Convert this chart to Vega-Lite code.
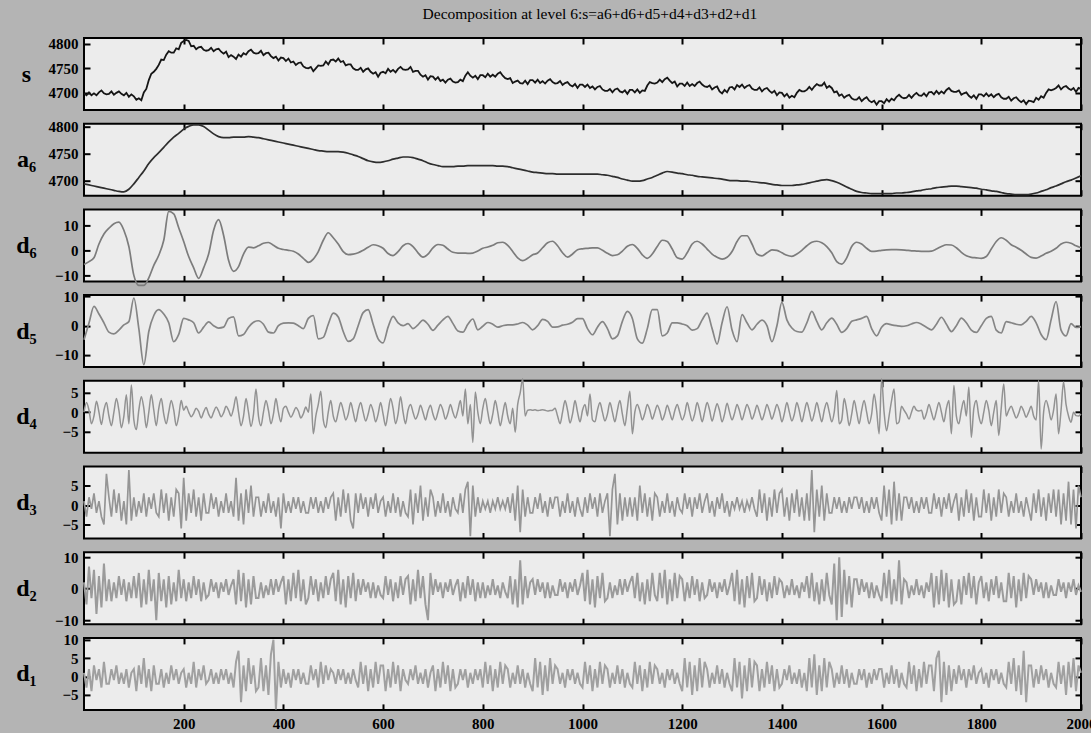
{
"$schema":"https://vega.github.io/schema/vega-lite/v6.json",
"background":"#b4b4b4",
"padding":{"left":14,"top":6,"right":0,"bottom":0},
"title":{"text":"Decomposition at level 6:s=a6+d6+d5+d4+d3+d2+d1","font":"Liberation Serif","fontSize":15.5,"fontWeight":"normal","color":"#000000","anchor":"middle","offset":13,"dx":34},
"spacing":13.7,
"bounds":"flush",
"config":{
"numberFormat":"d",
"view":{"fill":"#ececec","stroke":"#000000","strokeWidth":2},
"axis":{"grid":false,"domain":false,"format":"d","tickColor":"#000000","tickWidth":2,"tickSize":-6,"labelFont":"Liberation Serif","labelFontWeight":"bold","labelFontSize":15,"labelColor":"#000000","titleFont":"Liberation Serif","titleFontSize":24,"titleFontWeight":"bold","titleColor":"#000000"},
"axisLeft":{"titleAngle":0,"titleX":-58,"titleY":36,"titleAlign":"center","titleBaseline":"middle","labelPadding":12},
"axisRight":{"labels":false},
"axisTop":{"labels":false},
"axisBottom":{"labelPadding":13,"labelFlush":false},
"line":{"clip":true}
},
"datasets":{
"lf":[
{"x":0,"a6":4694,"d6":-5.7,"d5":-4.8},{"x":10,"a6":4692,"d6":-4.5,"d5":0.9},{"x":20,"a6":4690,"d6":-3,"d5":6.6},{"x":30,"a6":4688,"d6":2.5,"d5":4},{"x":40,"a6":4686,"d6":6.5,"d5":1},{"x":50,"a6":4684,"d6":8.8,"d5":-2.2},{"x":60,"a6":4682,"d6":10.6,"d5":-2.8},{"x":70,"a6":4680,"d6":11.2,"d5":-1.5},{"x":80,"a6":4679,"d6":8,"d5":0.3},{"x":90,"a6":4684,"d6":1.5,"d5":1.4},
{"x":100,"a6":4694,"d6":-10,"d5":9.5},{"x":110,"a6":4706,"d6":-14,"d5":-1},{"x":120,"a6":4718,"d6":-14,"d5":-13.4},{"x":130,"a6":4732,"d6":-11,"d5":-2},{"x":140,"a6":4743,"d6":-6,"d5":3.5},{"x":150,"a6":4752,"d6":-2,"d5":5.5},{"x":160,"a6":4762,"d6":4,"d5":4},{"x":170,"a6":4772,"d6":15.5,"d5":1},{"x":180,"a6":4781,"d6":14.5,"d5":-5.5},{"x":190,"a6":4788,"d6":9,"d5":-3},
{"x":200,"a6":4796,"d6":3.5,"d5":2.5},{"x":210,"a6":4801,"d6":-2.5,"d5":2},{"x":220,"a6":4804,"d6":-7,"d5":1},{"x":230,"a6":4804,"d6":-11.2,"d5":-2.5},{"x":240,"a6":4801,"d6":-7,"d5":-0.5},{"x":250,"a6":4794,"d6":-1.5,"d5":1.3},{"x":260,"a6":4787,"d6":8,"d5":0},{"x":270,"a6":4782,"d6":12.2,"d5":-0.8},{"x":280,"a6":4780,"d6":6,"d5":-0.5},{"x":290,"a6":4780,"d6":-4,"d5":2.5},
{"x":300,"a6":4781,"d6":-8.4,"d5":3},{"x":310,"a6":4781,"d6":-6.5,"d5":-3.5},{"x":320,"a6":4781,"d6":-1.5,"d5":-3},{"x":330,"a6":4782,"d6":1.3,"d5":-0.5},{"x":340,"a6":4781,"d6":1,"d5":1.2},{"x":350,"a6":4780,"d6":1.8,"d5":1.7},{"x":360,"a6":4778,"d6":2.8,"d5":0.5},{"x":370,"a6":4776,"d6":3.1,"d5":-2.2},{"x":380,"a6":4774,"d6":2,"d5":-2.5},{"x":390,"a6":4772,"d6":0.8,"d5":0},
{"x":400,"a6":4770,"d6":0.3,"d5":0.9},{"x":410,"a6":4768,"d6":0,"d5":1},{"x":420,"a6":4766,"d6":-0.4,"d5":0.9},{"x":430,"a6":4764,"d6":-1.5,"d5":0},{"x":440,"a6":4762,"d6":-3.2,"d5":-1},{"x":450,"a6":4760,"d6":-4.8,"d5":2.5},{"x":460,"a6":4758,"d6":-3.5,"d5":3.5},{"x":470,"a6":4756,"d6":-0.5,"d5":-4.5},{"x":480,"a6":4755,"d6":4,"d5":-4},{"x":490,"a6":4754,"d6":7,"d5":0.5},
{"x":500,"a6":4754,"d6":5,"d5":4.3},{"x":510,"a6":4754,"d6":2.5,"d5":3},{"x":520,"a6":4753,"d6":-0.5,"d5":-2},{"x":530,"a6":4751,"d6":-1.7,"d5":-5.4},{"x":540,"a6":4748,"d6":-1.5,"d5":-4.5},{"x":550,"a6":4745,"d6":-1,"d5":0},{"x":560,"a6":4741,"d6":0,"d5":4.5},{"x":570,"a6":4737,"d6":1.2,"d5":5.5},{"x":580,"a6":4735,"d6":2.2,"d5":0.5},{"x":590,"a6":4734,"d6":1.8,"d5":-4.5},
{"x":600,"a6":4735,"d6":0.8,"d5":-5.9},{"x":610,"a6":4737,"d6":-1.3,"d5":-0.5},{"x":620,"a6":4740,"d6":-2.1,"d5":3.2},{"x":630,"a6":4742,"d6":-0.5,"d5":1},{"x":640,"a6":4744,"d6":1.8,"d5":0},{"x":650,"a6":4744,"d6":2.7,"d5":0.7},{"x":660,"a6":4743,"d6":1.5,"d5":-1},{"x":670,"a6":4740,"d6":-1,"d5":0.3},{"x":680,"a6":4737,"d6":-2.7,"d5":1.9},{"x":690,"a6":4733,"d6":-1.5,"d5":0.5},
{"x":700,"a6":4730,"d6":1,"d5":-1.6},{"x":710,"a6":4728,"d6":2.3,"d5":0.2},{"x":720,"a6":4726,"d6":2,"d5":2},{"x":730,"a6":4726,"d6":0.5,"d5":3.2},{"x":740,"a6":4726,"d6":-0.8,"d5":0.8},{"x":750,"a6":4727,"d6":-1.1,"d5":-1.8},{"x":760,"a6":4727,"d6":-1.1,"d5":-2.2},{"x":770,"a6":4728,"d6":-1.2,"d5":0.5},{"x":780,"a6":4728,"d6":-1.1,"d5":2.3},{"x":790,"a6":4728,"d6":-0.3,"d5":-1.4},
{"x":800,"a6":4728,"d6":0.8,"d5":-0.2},{"x":810,"a6":4728,"d6":1.3,"d5":1.1},{"x":820,"a6":4728,"d6":2,"d5":0.5},{"x":830,"a6":4727,"d6":3,"d5":-0.5},{"x":840,"a6":4727,"d6":3.2,"d5":0},{"x":850,"a6":4726,"d6":2,"d5":0.3},{"x":860,"a6":4724,"d6":-0.5,"d5":0.3},{"x":870,"a6":4722,"d6":-3,"d5":0.6},{"x":880,"a6":4720,"d6":-4.1,"d5":1.1},{"x":890,"a6":4718,"d6":-3.2,"d5":0.2},
{"x":900,"a6":4716,"d6":-1.8,"d5":-1.4},{"x":910,"a6":4715,"d6":-1.1,"d5":0},{"x":920,"a6":4714,"d6":1,"d5":2.2},{"x":930,"a6":4713,"d6":3,"d5":1.5},{"x":940,"a6":4713,"d6":3.6,"d5":-0.5},{"x":950,"a6":4712,"d6":1.8,"d5":-0.4},{"x":960,"a6":4712,"d6":-1,"d5":0.2},{"x":970,"a6":4712,"d6":-2.7,"d5":0.5},{"x":980,"a6":4712,"d6":-1.5,"d5":1.2},{"x":990,"a6":4712,"d6":0.2,"d5":2.4},
{"x":1000,"a6":4712,"d6":0.6,"d5":2.4},{"x":1010,"a6":4712,"d6":0.8,"d5":-1},{"x":1020,"a6":4712,"d6":1,"d5":-3.1},{"x":1030,"a6":4712,"d6":1,"d5":-0.5},{"x":1040,"a6":4711,"d6":0,"d5":1.4},{"x":1050,"a6":4710,"d6":-1.2,"d5":-1},{"x":1060,"a6":4708,"d6":-2.1,"d5":-4.5},{"x":1070,"a6":4706,"d6":-1.8,"d5":-3.5},{"x":1080,"a6":4703,"d6":-0.3,"d5":1.5},{"x":1090,"a6":4701,"d6":1.6,"d5":4.9},
{"x":1100,"a6":4699,"d6":2.3,"d5":2.5},{"x":1110,"a6":4699,"d6":0.8,"d5":-4.5},{"x":1120,"a6":4700,"d6":-1.8,"d5":-6},{"x":1130,"a6":4703,"d6":-3.2,"d5":-1},{"x":1140,"a6":4706,"d6":-1.5,"d5":5.5},{"x":1150,"a6":4710,"d6":1.5,"d5":5.5},{"x":1160,"a6":4714,"d6":4,"d5":-3.5},{"x":1170,"a6":4717,"d6":3.5,"d5":-2.5},{"x":1180,"a6":4716,"d6":0.5,"d5":1},{"x":1190,"a6":4714,"d6":-3,"d5":1},
{"x":1200,"a6":4713,"d6":-3.5,"d5":0.6},{"x":1210,"a6":4711,"d6":-1,"d5":0},{"x":1220,"a6":4710,"d6":2.5,"d5":-1.5},{"x":1230,"a6":4708,"d6":3.6,"d5":-1},{"x":1240,"a6":4707,"d6":2.5,"d5":2},{"x":1250,"a6":4706,"d6":0.5,"d5":4.3},{"x":1260,"a6":4705,"d6":-1.5,"d5":-1},{"x":1270,"a6":4704,"d6":-2.8,"d5":-6.3},{"x":1280,"a6":4703,"d6":-3.5,"d5":1},{"x":1290,"a6":4701,"d6":-2.8,"d5":6.5},
{"x":1300,"a6":4700,"d6":-0.5,"d5":-1.5},{"x":1310,"a6":4700,"d6":3.5,"d5":-5.5},{"x":1320,"a6":4699,"d6":5.8,"d5":3.8},{"x":1330,"a6":4699,"d6":5.8,"d5":1},{"x":1340,"a6":4698,"d6":2.5,"d5":-1.4},{"x":1350,"a6":4697,"d6":-1.5,"d5":0.5},{"x":1360,"a6":4696,"d6":-2.2,"d5":1.9},{"x":1370,"a6":4695,"d6":-1,"d5":0},{"x":1380,"a6":4693,"d6":0.2,"d5":-5.5},{"x":1390,"a6":4692,"d6":0,"d5":0},
{"x":1400,"a6":4691,"d6":-1,"d5":8},{"x":1410,"a6":4691,"d6":-2,"d5":2},{"x":1420,"a6":4691,"d6":-2.4,"d5":-0.8},{"x":1430,"a6":4692,"d6":-1.5,"d5":-2},{"x":1440,"a6":4693,"d6":0,"d5":-2.2},{"x":1450,"a6":4695,"d6":1.8,"d5":1},{"x":1460,"a6":4697,"d6":3.2,"d5":4.9},{"x":1470,"a6":4699,"d6":3.6,"d5":1.5},{"x":1480,"a6":4701,"d6":3,"d5":-1.4},{"x":1490,"a6":4702,"d6":1.5,"d5":1},
{"x":1500,"a6":4700,"d6":-1,"d5":2.6},{"x":1510,"a6":4697,"d6":-4.5,"d5":0.5},{"x":1520,"a6":4693,"d6":-5.5,"d5":-2.3},{"x":1530,"a6":4688,"d6":-3,"d5":-1},{"x":1540,"a6":4684,"d6":1.5,"d5":1.5},{"x":1550,"a6":4680,"d6":3.2,"d5":2},{"x":1560,"a6":4678,"d6":2.5,"d5":2.5},{"x":1570,"a6":4677,"d6":0.8,"d5":3.2},{"x":1580,"a6":4676,"d6":-0.4,"d5":-1},{"x":1590,"a6":4676,"d6":-0.3,"d5":-3.5},
{"x":1600,"a6":4676,"d6":0,"d5":-0.5},{"x":1610,"a6":4676,"d6":0.2,"d5":0.7},{"x":1620,"a6":4676,"d6":0.3,"d5":0.3},{"x":1630,"a6":4677,"d6":0.3,"d5":0},{"x":1640,"a6":4677,"d6":0.2,"d5":-0.2},{"x":1650,"a6":4678,"d6":0,"d5":0},{"x":1660,"a6":4679,"d6":-0.2,"d5":0.6},{"x":1670,"a6":4681,"d6":-0.3,"d5":1.1},{"x":1680,"a6":4682,"d6":-0.4,"d5":0.5},{"x":1690,"a6":4684,"d6":-0.4,"d5":-0.5},
{"x":1700,"a6":4685,"d6":-0.3,"d5":-1.4},{"x":1710,"a6":4687,"d6":0.5,"d5":0.5},{"x":1720,"a6":4688,"d6":1.5,"d5":2.9},{"x":1730,"a6":4689,"d6":2.2,"d5":0.5},{"x":1740,"a6":4690,"d6":2.1,"d5":-2},{"x":1750,"a6":4690,"d6":1,"d5":0},{"x":1760,"a6":4689,"d6":-0.8,"d5":2.6},{"x":1770,"a6":4688,"d6":-2.2,"d5":1},{"x":1780,"a6":4687,"d6":-2.8,"d5":-1.5},{"x":1790,"a6":4686,"d6":-3,"d5":-2.3},
{"x":1800,"a6":4684,"d6":-3.2,"d5":0},{"x":1810,"a6":4683,"d6":-2.5,"d5":2.5},{"x":1820,"a6":4681,"d6":0.5,"d5":3.2},{"x":1830,"a6":4680,"d6":3.5,"d5":-1.5},{"x":1840,"a6":4678,"d6":5,"d5":-2.5},{"x":1850,"a6":4676,"d6":4,"d5":1.4},{"x":1860,"a6":4675,"d6":2.2,"d5":1},{"x":1870,"a6":4674,"d6":1.2,"d5":0.5},{"x":1880,"a6":4674,"d6":0,"d5":0.3},{"x":1890,"a6":4674,"d6":-1.5,"d5":1.5},
{"x":1900,"a6":4675,"d6":-2.8,"d5":3.2},{"x":1910,"a6":4677,"d6":-3.1,"d5":1},{"x":1920,"a6":4680,"d6":-2.3,"d5":-3},{"x":1930,"a6":4683,"d6":-1.2,"d5":-4.8},{"x":1940,"a6":4687,"d6":-0.4,"d5":2},{"x":1950,"a6":4690,"d6":0.8,"d5":8.3},{"x":1960,"a6":4694,"d6":2.5,"d5":-1.5},{"x":1970,"a6":4698,"d6":3.2,"d5":-3.5},{"x":1980,"a6":4701,"d6":2.8,"d5":0.7},{"x":1990,"a6":4705,"d6":1.8,"d5":-0.6},
{"x":2000,"a6":4709,"d6":1,"d5":-0.3}
],
"hf":[
{"x":0,"s":4699,"d4":0,"d3":1,"d2":2,"d1":1},{"x":5,"s":4695,"d4":2.5,"d3":-3,"d2":-5,"d1":-3},{"x":10,"s":4701,"d4":0.5,"d3":2,"d2":7,"d1":2},{"x":15,"s":4695,"d4":-3,"d3":-1,"d2":-3,"d1":-4},{"x":20,"s":4699,"d4":-1,"d3":3,"d2":6,"d1":3},{"x":25,"s":4695,"d4":2.8,"d3":-2,"d2":-8,"d1":-1},{"x":30,"s":4701,"d4":0,"d3":1,"d2":4,"d1":2},{"x":35,"s":4705,"d4":-3.2,"d3":-3,"d2":-6,"d1":-3},{"x":40,"s":4699,"d4":0.5,"d3":-5,"d2":8,"d1":4},{"x":45,"s":4697,"d4":2.5,"d3":8,"d2":-4,"d1":-2},
{"x":50,"s":4698,"d4":-1,"d3":2,"d2":3,"d1":-2},{"x":55,"s":4703,"d4":-3.5,"d3":-3,"d2":-4,"d1":2},{"x":60,"s":4696,"d4":0,"d3":4,"d2":2,"d1":-1},{"x":65,"s":4700,"d4":3.5,"d3":-2,"d2":-3,"d1":3},{"x":70,"s":4703,"d4":0.5,"d3":3,"d2":4,"d1":-2},{"x":75,"s":4698,"d4":-4,"d3":-4,"d2":-2,"d1":1},{"x":80,"s":4695,"d4":-1,"d3":1,"d2":3,"d1":-2},{"x":85,"s":4700,"d4":4.5,"d3":-5,"d2":-4,"d1":2},{"x":90,"s":4692,"d4":-3,"d3":9,"d2":2,"d1":-3},{"x":95,"s":4697,"d4":7,"d3":-4,"d2":-3,"d1":1},
{"x":100,"s":4693,"d4":-2,"d3":2,"d2":4,"d1":2},{"x":105,"s":4686,"d4":-4.5,"d3":-3,"d2":-3,"d1":-4},{"x":110,"s":4689,"d4":0.5,"d3":1,"d2":5,"d1":3},{"x":115,"s":4685,"d4":4,"d3":-2,"d2":-6,"d1":-2},{"x":120,"s":4701,"d4":1,"d3":3,"d2":3,"d1":5},{"x":125,"s":4708,"d4":-4,"d3":-3,"d2":-5,"d1":-3},{"x":130,"s":4726,"d4":0,"d3":2,"d2":6,"d1":2},{"x":135,"s":4739,"d4":4.5,"d3":-1,"d2":-4,"d1":-4},{"x":140,"s":4743,"d4":0.5,"d3":3,"d2":3,"d1":3},{"x":145,"s":4749,"d4":-3.5,"d3":-2,"d2":-10,"d1":-2},
{"x":150,"s":4757,"d4":1,"d3":-3,"d2":5,"d1":-2},{"x":155,"s":4768,"d4":3.5,"d3":4,"d2":-4,"d1":2},{"x":160,"s":4767,"d4":-0.5,"d3":-2,"d2":3,"d1":-3},{"x":165,"s":4778,"d4":-3,"d3":3,"d2":-6,"d1":1},{"x":170,"s":4785,"d4":0,"d3":-4,"d2":4,"d1":-2},{"x":175,"s":4782,"d4":3,"d3":2,"d2":-5,"d1":3},{"x":180,"s":4782,"d4":0.5,"d3":-3,"d2":2,"d1":-1},{"x":185,"s":4791,"d4":-3.5,"d3":4,"d2":-4,"d1":2},{"x":190,"s":4789,"d4":-1,"d3":3,"d2":6,"d1":-2},{"x":195,"s":4802,"d4":3,"d3":-6,"d2":-3,"d1":1},
{"x":200,"s":4806,"d4":0.5,"d3":7,"d2":3,"d1":2},{"x":205,"s":4808,"d4":1.5,"d3":-4,"d2":-4,"d1":-3},{"x":210,"s":4806,"d4":0,"d3":3,"d2":2,"d1":1},{"x":215,"s":4795,"d4":-1.2,"d3":-2,"d2":-3,"d1":-2},{"x":220,"s":4796,"d4":-0.3,"d3":4,"d2":4,"d1":4},{"x":225,"s":4789,"d4":1,"d3":-3,"d2":-2,"d1":-3},{"x":230,"s":4793,"d4":0.2,"d3":2,"d2":3,"d1":2},{"x":235,"s":4794,"d4":-1.5,"d3":-4,"d2":-4,"d1":-1},{"x":240,"s":4788,"d4":0,"d3":3,"d2":2,"d1":3},{"x":245,"s":4786,"d4":1.2,"d3":-2,"d2":-3,"d1":-2},
{"x":250,"s":4787,"d4":-0.5,"d3":-2,"d2":-2,"d1":-1},{"x":255,"s":4792,"d4":-1.5,"d3":3,"d2":3,"d1":2},{"x":260,"s":4785,"d4":0,"d3":-1,"d2":-1,"d1":-2},{"x":265,"s":4789,"d4":1.3,"d3":2,"d2":2,"d1":1},{"x":270,"s":4790,"d4":0.3,"d3":-3,"d2":-3,"d1":-2},{"x":275,"s":4784,"d4":-1.2,"d3":1,"d2":2,"d1":2},{"x":280,"s":4780,"d4":-0.2,"d3":-2,"d2":-1,"d1":-1},{"x":285,"s":4784,"d4":1.5,"d3":3,"d2":3,"d1":2},{"x":290,"s":4773,"d4":0.5,"d3":-2,"d2":-2,"d1":-2},{"x":295,"s":4777,"d4":-1,"d3":1,"d2":1,"d1":1},
{"x":300,"s":4774,"d4":1,"d3":-3,"d2":3,"d1":-3},{"x":305,"s":4769,"d4":4,"d3":7,"d2":-5,"d1":4},{"x":310,"s":4778,"d4":0,"d3":-4,"d2":6,"d1":7},{"x":315,"s":4774,"d4":-3.5,"d3":3,"d2":-4,"d1":-7},{"x":320,"s":4781,"d4":-1,"d3":-5,"d2":5,"d1":3},{"x":325,"s":4778,"d4":3.5,"d3":4,"d2":-6,"d1":-4},{"x":330,"s":4785,"d4":0,"d3":-2,"d2":3,"d1":5},{"x":335,"s":4788,"d4":-3.7,"d3":5,"d2":-5,"d1":-2},{"x":340,"s":4782,"d4":-0.5,"d3":-3,"d2":4,"d1":3},{"x":345,"s":4780,"d4":6,"d3":2,"d2":-3,"d1":-4},
{"x":350,"s":4781,"d4":-1,"d3":2,"d2":-3,"d1":-3},{"x":355,"s":4786,"d4":-3.5,"d3":-3,"d2":2,"d1":5},{"x":360,"s":4777,"d4":0,"d3":1,"d2":-3,"d1":-4},{"x":365,"s":4781,"d4":3,"d3":-2,"d2":1,"d1":3},{"x":370,"s":4782,"d4":0.5,"d3":3,"d2":-2,"d1":-5},{"x":375,"s":4775,"d4":-3,"d3":-2,"d2":3,"d1":6},{"x":380,"s":4771,"d4":-0.5,"d3":1,"d2":-2,"d1":10},{"x":385,"s":4774,"d4":3.5,"d3":-3,"d2":3,"d1":-9},{"x":390,"s":4766,"d4":0,"d3":2,"d2":-1,"d1":4},{"x":395,"s":4772,"d4":-2.5,"d3":-6,"d2":2,"d1":-3},
{"x":400,"s":4771,"d4":1,"d3":3,"d2":4,"d1":2},{"x":405,"s":4765,"d4":1.5,"d3":-2,"d2":-5,"d1":-2},{"x":410,"s":4770,"d4":0,"d3":1,"d2":3,"d1":1},{"x":415,"s":4762,"d4":-1.3,"d3":-2,"d2":-4,"d1":-3},{"x":420,"s":4764,"d4":-0.2,"d3":2,"d2":5,"d1":2},{"x":425,"s":4757,"d4":1.2,"d3":-1,"d2":-3,"d1":-1},{"x":430,"s":4761,"d4":0.3,"d3":2,"d2":6,"d1":2},{"x":435,"s":4762,"d4":-1.5,"d3":-2,"d2":-4,"d1":-2},{"x":440,"s":4754,"d4":-0.4,"d3":1,"d2":3,"d1":1},{"x":445,"s":4751,"d4":1.3,"d3":-2,"d2":-5,"d1":-2},
{"x":450,"s":4750,"d4":0,"d3":-2,"d2":-3,"d1":-2},{"x":455,"s":4753,"d4":4.7,"d3":2,"d2":4,"d1":3},{"x":460,"s":4744,"d4":-5.6,"d3":-1,"d2":-2,"d1":-1},{"x":465,"s":4750,"d4":-1,"d3":2,"d2":3,"d1":2},{"x":470,"s":4756,"d4":2,"d3":-2,"d2":-4,"d1":-3},{"x":475,"s":4755,"d4":5.4,"d3":1,"d2":2,"d1":4},{"x":480,"s":4756,"d4":-2,"d3":-2,"d2":-3,"d1":-2},{"x":485,"s":4764,"d4":-4,"d3":2,"d2":4,"d1":3},{"x":490,"s":4758,"d4":0,"d3":-1,"d2":-2,"d1":-1},{"x":495,"s":4767,"d4":3,"d3":2,"d2":3,"d1":2},
{"x":500,"s":4768,"d4":-1,"d3":3,"d2":5,"d1":1},{"x":505,"s":4764,"d4":-2.5,"d3":-4,"d2":-4,"d1":-2},{"x":510,"s":4770,"d4":0,"d3":2,"d2":6,"d1":2},{"x":515,"s":4763,"d4":2.5,"d3":-3,"d2":-5,"d1":-1},{"x":520,"s":4765,"d4":0.5,"d3":4,"d2":3,"d1":2},{"x":525,"s":4756,"d4":-2,"d3":-2,"d2":-6,"d1":-2},{"x":530,"s":4758,"d4":-0.5,"d3":3,"d2":4,"d1":1},{"x":535,"s":4758,"d4":2.5,"d3":-4,"d2":-3,"d1":-2},{"x":540,"s":4750,"d4":0,"d3":-6,"d2":5,"d1":2},{"x":545,"s":4747,"d4":-2.5,"d3":3,"d2":-4,"d1":-1},
{"x":550,"s":4747,"d4":0.5,"d3":-2,"d2":3,"d1":-3},{"x":555,"s":4751,"d4":2.5,"d3":3,"d2":-2,"d1":4},{"x":560,"s":4743,"d4":0,"d3":-1,"d2":3,"d1":-2},{"x":565,"s":4748,"d4":-2.3,"d3":2,"d2":-1,"d1":3},{"x":570,"s":4750,"d4":-0.5,"d3":-3,"d2":2,"d1":-4},{"x":575,"s":4743,"d4":2,"d3":2,"d2":-3,"d1":2},{"x":580,"s":4739,"d4":0.3,"d3":-1,"d2":2,"d1":-3},{"x":585,"s":4742,"d4":-2.5,"d3":3,"d2":-3,"d1":4},{"x":590,"s":4733,"d4":-0.5,"d3":-2,"d2":1,"d1":-2},{"x":595,"s":4741,"d4":2.5,"d3":1,"d2":-2,"d1":3},
{"x":600,"s":4743,"d4":-0.5,"d3":2,"d2":-3,"d1":3},{"x":605,"s":4740,"d4":-3.5,"d3":-3,"d2":4,"d1":-4},{"x":610,"s":4749,"d4":0,"d3":1,"d2":-2,"d1":2},{"x":615,"s":4743,"d4":3.5,"d3":-2,"d2":3,"d1":-3},{"x":620,"s":4747,"d4":1,"d3":3,"d2":-4,"d1":4},{"x":625,"s":4742,"d4":-3,"d3":-2,"d2":2,"d1":-2},{"x":630,"s":4749,"d4":-0.5,"d3":2,"d2":-3,"d1":3},{"x":635,"s":4753,"d4":4,"d3":-3,"d2":4,"d1":-4},{"x":640,"s":4748,"d4":0,"d3":1,"d2":-2,"d1":2},{"x":645,"s":4747,"d4":-3,"d3":-2,"d2":3,"d1":-1},
{"x":650,"s":4748,"d4":0.5,"d3":-3,"d2":4,"d1":-2},{"x":655,"s":4753,"d4":2,"d3":4,"d2":-5,"d1":2},{"x":660,"s":4743,"d4":0,"d3":-5,"d2":3,"d1":-1},{"x":665,"s":4745,"d4":-1.8,"d3":3,"d2":-4,"d1":3},{"x":670,"s":4745,"d4":-0.5,"d3":-2,"d2":6,"d1":-2},{"x":675,"s":4737,"d4":1.8,"d3":5,"d2":-3,"d1":1},{"x":680,"s":4733,"d4":0,"d3":-4,"d2":4,"d1":-2},{"x":685,"s":4736,"d4":-2,"d3":2,"d2":-5,"d1":2},{"x":690,"s":4727,"d4":0.3,"d3":-3,"d2":-10,"d1":-3},{"x":695,"s":4734,"d4":1.8,"d3":4,"d2":5,"d1":1},
{"x":700,"s":4733,"d4":-0.5,"d3":2,"d2":-2,"d1":3},{"x":705,"s":4727,"d4":-2,"d3":-3,"d2":3,"d1":-4},{"x":710,"s":4732,"d4":0,"d3":1,"d2":-1,"d1":2},{"x":715,"s":4724,"d4":2,"d3":-2,"d2":2,"d1":-3},{"x":720,"s":4727,"d4":0.5,"d3":3,"d2":-3,"d1":4},{"x":725,"s":4721,"d4":-1.8,"d3":-2,"d2":2,"d1":-2},{"x":730,"s":4727,"d4":-0.3,"d3":1,"d2":-1,"d1":3},{"x":735,"s":4729,"d4":2,"d3":-3,"d2":3,"d1":-4},{"x":740,"s":4723,"d4":0,"d3":2,"d2":-2,"d1":2},{"x":745,"s":4721,"d4":-1.5,"d3":-1,"d2":1,"d1":-3},
{"x":750,"s":4722,"d4":0.5,"d3":-2,"d2":3,"d1":-2},{"x":755,"s":4727,"d4":3,"d3":3,"d2":-4,"d1":2},{"x":760,"s":4724,"d4":-1,"d3":-2,"d2":2,"d1":-1},{"x":765,"s":4735,"d4":6,"d3":4,"d2":-3,"d1":2},{"x":770,"s":4742,"d4":-3,"d3":6,"d2":4,"d1":-3},{"x":775,"s":4735,"d4":2,"d3":-8,"d2":-2,"d1":1},{"x":780,"s":4731,"d4":-7.8,"d3":5,"d2":3,"d1":-2},{"x":785,"s":4735,"d4":5.2,"d3":-3,"d2":-4,"d1":2},{"x":790,"s":4728,"d4":0,"d3":2,"d2":2,"d1":-1},{"x":795,"s":4736,"d4":-3,"d3":-2,"d2":-3,"d1":2},
{"x":800,"s":4736,"d4":1,"d3":1,"d2":2,"d1":-3},{"x":805,"s":4732,"d4":3.5,"d3":-1,"d2":-3,"d1":4},{"x":810,"s":4739,"d4":0,"d3":1,"d2":1,"d1":-2},{"x":815,"s":4733,"d4":-3,"d3":-2,"d2":-2,"d1":3},{"x":820,"s":4737,"d4":-0.5,"d3":1,"d2":3,"d1":-4},{"x":825,"s":4733,"d4":3,"d3":-1,"d2":-2,"d1":2},{"x":830,"s":4739,"d4":0,"d3":2,"d2":1,"d1":-3},{"x":835,"s":4742,"d4":-3.5,"d3":-1,"d2":-3,"d1":4},{"x":840,"s":4735,"d4":-0.5,"d3":1,"d2":2,"d1":-2},{"x":845,"s":4730,"d4":2.5,"d3":-1,"d2":-1,"d1":3},
{"x":850,"s":4728,"d4":-1,"d3":2,"d2":-3,"d1":2},{"x":855,"s":4730,"d4":-3,"d3":-2,"d2":4,"d1":-3},{"x":860,"s":4720,"d4":1,"d3":3,"d2":-5,"d1":1},{"x":865,"s":4723,"d4":-5.2,"d3":-4,"d2":3,"d1":-2},{"x":870,"s":4725,"d4":2,"d3":5,"d2":-6,"d1":3},{"x":875,"s":4720,"d4":5,"d3":-7,"d2":9,"d1":-2},{"x":880,"s":4719,"d4":8.6,"d3":4,"d2":-5,"d1":2},{"x":885,"s":4725,"d4":-1,"d3":-3,"d2":4,"d1":-3},{"x":890,"s":4718,"d4":0.5,"d3":2,"d2":-3,"d1":1},{"x":895,"s":4726,"d4":0.6,"d3":-2,"d2":2,"d1":-2},
{"x":900,"s":4726,"d4":0.5,"d3":-2,"d2":3,"d1":-4},{"x":905,"s":4721,"d4":0.6,"d3":2,"d2":-2,"d1":5},{"x":910,"s":4727,"d4":0.4,"d3":-1,"d2":3,"d1":-3},{"x":915,"s":4720,"d4":0.5,"d3":3,"d2":-1,"d1":4},{"x":920,"s":4724,"d4":0.6,"d3":-2,"d2":2,"d1":-5},{"x":925,"s":4719,"d4":0.5,"d3":1,"d2":-3,"d1":3},{"x":930,"s":4725,"d4":0.3,"d3":-3,"d2":2,"d1":-4},{"x":935,"s":4728,"d4":0.4,"d3":2,"d2":-3,"d1":5},{"x":940,"s":4722,"d4":0.5,"d3":-1,"d2":1,"d1":-2},{"x":945,"s":4719,"d4":1,"d3":2,"d2":-2,"d1":3},
{"x":950,"s":4720,"d4":-1,"d3":2,"d2":-2,"d1":2},{"x":955,"s":4724,"d4":-3,"d3":-3,"d2":3,"d1":-2},{"x":960,"s":4716,"d4":0,"d3":1,"d2":-1,"d1":1},{"x":965,"s":4720,"d4":3,"d3":-2,"d2":2,"d1":-3},{"x":970,"s":4722,"d4":0.5,"d3":3,"d2":-3,"d1":2},{"x":975,"s":4716,"d4":-2.8,"d3":-2,"d2":2,"d1":-1},{"x":980,"s":4713,"d4":-0.5,"d3":1,"d2":-1,"d1":2},{"x":985,"s":4718,"d4":3,"d3":-3,"d2":3,"d1":-2},{"x":990,"s":4710,"d4":0,"d3":2,"d2":-2,"d1":1},{"x":995,"s":4717,"d4":-2.5,"d3":-1,"d2":1,"d1":-2},
{"x":1000,"s":4717,"d4":0.5,"d3":-3,"d2":5,"d1":-3},{"x":1005,"s":4712,"d4":2,"d3":2,"d2":-4,"d1":4},{"x":1010,"s":4717,"d4":-1,"d3":-2,"d2":6,"d1":-2},{"x":1015,"s":4710,"d4":4.7,"d3":3,"d2":-5,"d1":3},{"x":1020,"s":4713,"d4":-2,"d3":-1,"d2":3,"d1":-4},{"x":1025,"s":4707,"d4":-2.5,"d3":2,"d2":-6,"d1":2},{"x":1030,"s":4712,"d4":0.5,"d3":-3,"d2":4,"d1":-3},{"x":1035,"s":4714,"d4":2.5,"d3":3,"d2":-3,"d1":4},{"x":1040,"s":4707,"d4":0,"d3":-2,"d2":5,"d1":-2},{"x":1045,"s":4704,"d4":-2.3,"d3":1,"d2":-4,"d1":3},
{"x":1050,"s":4704,"d4":-0.5,"d3":3,"d2":-3,"d1":2},{"x":1055,"s":4708,"d4":2.5,"d3":-8,"d2":2,"d1":-3},{"x":1060,"s":4701,"d4":0,"d3":4,"d2":-3,"d1":1},{"x":1065,"s":4707,"d4":-2.5,"d3":8,"d2":1,"d1":-2},{"x":1070,"s":4709,"d4":0.5,"d3":-5,"d2":-2,"d1":3},{"x":1075,"s":4703,"d4":3,"d3":3,"d2":3,"d1":-2},{"x":1080,"s":4701,"d4":-0.5,"d3":-4,"d2":-2,"d1":2},{"x":1085,"s":4705,"d4":-3.5,"d3":2,"d2":3,"d1":-3},{"x":1090,"s":4698,"d4":1,"d3":-3,"d2":-1,"d1":1},{"x":1095,"s":4706,"d4":5.4,"d3":2,"d2":2,"d1":-2},
{"x":1100,"s":4706,"d4":-5.6,"d3":-3,"d2":4,"d1":-3},{"x":1105,"s":4701,"d4":0,"d3":2,"d2":-3,"d1":4},{"x":1110,"s":4707,"d4":2,"d3":-4,"d2":5,"d1":-2},{"x":1115,"s":4700,"d4":0.3,"d3":5,"d2":-4,"d1":3},{"x":1120,"s":4705,"d4":-2,"d3":-2,"d2":2,"d1":-4},{"x":1125,"s":4704,"d4":-0.3,"d3":3,"d2":-5,"d1":2},{"x":1130,"s":4715,"d4":2,"d3":-3,"d2":3,"d1":-3},{"x":1135,"s":4722,"d4":0.5,"d3":2,"d2":-4,"d1":4},{"x":1140,"s":4720,"d4":-1.8,"d3":-4,"d2":5,"d1":-2},{"x":1145,"s":4719,"d4":0,"d3":3,"d2":-2,"d1":3},
{"x":1150,"s":4721,"d4":1.8,"d3":2,"d2":-4,"d1":2},{"x":1155,"s":4727,"d4":0.3,"d3":-3,"d2":5,"d1":-2},{"x":1160,"s":4722,"d4":-2,"d3":1,"d2":-3,"d1":1},{"x":1165,"s":4728,"d4":-0.5,"d3":-2,"d2":6,"d1":-3},{"x":1170,"s":4731,"d4":1.8,"d3":3,"d2":-5,"d1":2},{"x":1175,"s":4725,"d4":0,"d3":-2,"d2":3,"d1":-1},{"x":1180,"s":4720,"d4":-2,"d3":1,"d2":-4,"d1":2},{"x":1185,"s":4723,"d4":0.3,"d3":-3,"d2":5,"d1":-2},{"x":1190,"s":4713,"d4":2,"d3":2,"d2":-3,"d1":1},{"x":1195,"s":4719,"d4":0,"d3":-1,"d2":4,"d1":-2},
{"x":1200,"s":4719,"d4":-2,"d3":-2,"d2":3,"d1":-4},{"x":1205,"s":4714,"d4":-0.5,"d3":3,"d2":-4,"d1":5},{"x":1210,"s":4721,"d4":2.5,"d3":-1,"d2":2,"d1":-3},{"x":1215,"s":4714,"d4":0,"d3":2,"d2":-3,"d1":4},{"x":1220,"s":4718,"d4":-2.3,"d3":-3,"d2":4,"d1":-5},{"x":1225,"s":4714,"d4":-0.5,"d3":2,"d2":-2,"d1":3},{"x":1230,"s":4720,"d4":2.5,"d3":-1,"d2":3,"d1":-4},{"x":1235,"s":4723,"d4":0.3,"d3":3,"d2":-4,"d1":5},{"x":1240,"s":4717,"d4":-2.5,"d3":-2,"d2":2,"d1":-3},{"x":1245,"s":4713,"d4":0,"d3":1,"d2":-3,"d1":4},
{"x":1250,"s":4712,"d4":2.5,"d3":3,"d2":-2,"d1":2},{"x":1255,"s":4715,"d4":0.5,"d3":-2,"d2":3,"d1":-3},{"x":1260,"s":4707,"d4":-2.3,"d3":1,"d2":-1,"d1":1},{"x":1265,"s":4711,"d4":0,"d3":-3,"d2":2,"d1":-2},{"x":1270,"s":4713,"d4":2.2,"d3":2,"d2":-3,"d1":3},{"x":1275,"s":4703,"d4":0.3,"d3":-1,"d2":2,"d1":-2},{"x":1280,"s":4699,"d4":-2.5,"d3":3,"d2":-1,"d1":2},{"x":1285,"s":4706,"d4":-0.5,"d3":-2,"d2":3,"d1":-3},{"x":1290,"s":4701,"d4":2.3,"d3":1,"d2":-2,"d1":1},{"x":1295,"s":4711,"d4":0,"d3":-3,"d2":1,"d1":-2},
{"x":1300,"s":4712,"d4":-2,"d3":1,"d2":5,"d1":-4},{"x":1305,"s":4707,"d4":-0.3,"d3":-1,"d2":-4,"d1":5},{"x":1310,"s":4716,"d4":2,"d3":2,"d2":6,"d1":-3},{"x":1315,"s":4712,"d4":0.3,"d3":-1,"d2":-5,"d1":4},{"x":1320,"s":4717,"d4":-2,"d3":1,"d2":3,"d1":-6},{"x":1325,"s":4710,"d4":0,"d3":-2,"d2":-6,"d1":3},{"x":1330,"s":4714,"d4":2,"d3":1,"d2":4,"d1":-4},{"x":1335,"s":4716,"d4":0.5,"d3":-1,"d2":-3,"d1":5},{"x":1340,"s":4709,"d4":-1.8,"d3":2,"d2":5,"d1":-3},{"x":1345,"s":4706,"d4":-0.3,"d3":-1,"d2":-4,"d1":4},
{"x":1350,"s":4706,"d4":1.8,"d3":-3,"d2":-3,"d1":3},{"x":1355,"s":4711,"d4":0,"d3":4,"d2":4,"d1":-4},{"x":1360,"s":4703,"d4":-2,"d3":-2,"d2":-2,"d1":2},{"x":1365,"s":4708,"d4":-0.3,"d3":3,"d2":3,"d1":-3},{"x":1370,"s":4710,"d4":2,"d3":-4,"d2":-4,"d1":4},{"x":1375,"s":4704,"d4":0.3,"d3":2,"d2":2,"d1":-2},{"x":1380,"s":4700,"d4":-1.8,"d3":-3,"d2":-3,"d1":3},{"x":1385,"s":4704,"d4":0,"d3":4,"d2":4,"d1":-4},{"x":1390,"s":4695,"d4":2,"d3":-2,"d2":-2,"d1":2},{"x":1395,"s":4701,"d4":0.3,"d3":3,"d2":3,"d1":-3},
{"x":1400,"s":4700,"d4":-2.5,"d3":4,"d2":2,"d1":-2},{"x":1405,"s":4693,"d4":-0.3,"d3":-3,"d2":-3,"d1":2},{"x":1410,"s":4698,"d4":2.5,"d3":2,"d2":1,"d1":-1},{"x":1415,"s":4690,"d4":0,"d3":-4,"d2":-2,"d1":3},{"x":1420,"s":4694,"d4":-2.3,"d3":3,"d2":3,"d1":-2},{"x":1425,"s":4691,"d4":-0.5,"d3":-2,"d2":-2,"d1":1},{"x":1430,"s":4700,"d4":2.5,"d3":4,"d2":1,"d1":-2},{"x":1435,"s":4706,"d4":0.3,"d3":-3,"d2":-3,"d1":2},{"x":1440,"s":4703,"d4":-2.5,"d3":2,"d2":2,"d1":-3},{"x":1445,"s":4703,"d4":0,"d3":-4,"d2":-1,"d1":1},
{"x":1450,"s":4706,"d4":2.5,"d3":3,"d2":4,"d1":-4},{"x":1455,"s":4712,"d4":0.3,"d3":-4,"d2":-3,"d1":5},{"x":1460,"s":4706,"d4":-2.3,"d3":9,"d2":5,"d1":-3},{"x":1465,"s":4713,"d4":-0.3,"d3":-7,"d2":-4,"d1":6},{"x":1470,"s":4718,"d4":2.5,"d3":4,"d2":2,"d1":-5},{"x":1475,"s":4715,"d4":0,"d3":-3,"d2":-5,"d1":3},{"x":1480,"s":4715,"d4":-2.5,"d3":5,"d2":3,"d1":-4},{"x":1485,"s":4721,"d4":0.5,"d3":-4,"d2":-4,"d1":5},{"x":1490,"s":4710,"d4":2.5,"d3":3,"d2":5,"d1":-3},{"x":1495,"s":4714,"d4":0,"d3":-2,"d2":-2,"d1":4},
{"x":1500,"s":4710,"d4":-2.5,"d3":-2,"d2":-5,"d1":2},{"x":1505,"s":4701,"d4":0,"d3":2,"d2":8,"d1":-3},{"x":1510,"s":4703,"d4":5.6,"d3":-1,"d2":-10,"d1":1},{"x":1515,"s":4694,"d4":-3,"d3":2,"d2":10,"d1":-2},{"x":1520,"s":4697,"d4":-2,"d3":-2,"d2":-9,"d1":3},{"x":1525,"s":4690,"d4":3.5,"d3":1,"d2":6,"d1":-2},{"x":1530,"s":4694,"d4":0.5,"d3":-2,"d2":-5,"d1":2},{"x":1535,"s":4696,"d4":-3.5,"d3":2,"d2":4,"d1":-3},{"x":1540,"s":4689,"d4":-0.5,"d3":-1,"d2":-6,"d1":1},{"x":1545,"s":4686,"d4":3,"d3":2,"d2":3,"d1":-2},
{"x":1550,"s":4686,"d4":0,"d3":2,"d2":3,"d1":-2},{"x":1555,"s":4691,"d4":-3,"d3":-1,"d2":-2,"d1":2},{"x":1560,"s":4683,"d4":0.5,"d3":2,"d2":3,"d1":-1},{"x":1565,"s":4688,"d4":3,"d3":-2,"d2":-1,"d1":2},{"x":1570,"s":4691,"d4":0,"d3":1,"d2":2,"d1":-3},{"x":1575,"s":4684,"d4":-3,"d3":-2,"d2":-3,"d1":1},{"x":1580,"s":4681,"d4":-0.5,"d3":2,"d2":2,"d1":-2},{"x":1585,"s":4684,"d4":4.7,"d3":-1,"d2":-3,"d1":2},{"x":1590,"s":4676,"d4":0.5,"d3":2,"d2":1,"d1":-1},{"x":1595,"s":4683,"d4":-5.6,"d3":-2,"d2":-2,"d1":2},
{"x":1600,"s":4683,"d4":8.6,"d3":-4,"d2":-4,"d1":2},{"x":1605,"s":4679,"d4":0,"d3":5,"d2":5,"d1":-3},{"x":1610,"s":4687,"d4":-4.8,"d3":-3,"d2":-3,"d1":1},{"x":1615,"s":4682,"d4":-1,"d3":4,"d2":6,"d1":-2},{"x":1620,"s":4688,"d4":3,"d3":-5,"d2":-5,"d1":3},{"x":1625,"s":4685,"d4":6,"d3":6,"d2":3,"d1":-2},{"x":1630,"s":4692,"d4":-3,"d3":-4,"d2":-4,"d1":2},{"x":1635,"s":4696,"d4":-2.5,"d3":3,"d2":9,"d1":-3},{"x":1640,"s":4691,"d4":1.5,"d3":-4,"d2":-5,"d1":1},{"x":1645,"s":4689,"d4":0.5,"d3":2,"d2":3,"d1":-2},
{"x":1650,"s":4690,"d4":-0.5,"d3":2,"d2":2,"d1":-3},{"x":1655,"s":4696,"d4":-1.8,"d3":-1,"d2":-3,"d1":4},{"x":1660,"s":4690,"d4":0,"d3":2,"d2":1,"d1":-2},{"x":1665,"s":4696,"d4":1.5,"d3":-2,"d2":-2,"d1":3},{"x":1670,"s":4700,"d4":0.5,"d3":1,"d2":3,"d1":-4},{"x":1675,"s":4695,"d4":0.3,"d3":-2,"d2":-2,"d1":2},{"x":1680,"s":4694,"d4":0.5,"d3":2,"d2":1,"d1":-3},{"x":1685,"s":4699,"d4":-1.8,"d3":-1,"d2":-3,"d1":4},{"x":1690,"s":4693,"d4":-0.3,"d3":2,"d2":2,"d1":-2},{"x":1695,"s":4701,"d4":2,"d3":-2,"d2":-1,"d1":3},
{"x":1700,"s":4702,"d4":0,"d3":-2,"d2":5,"d1":3},{"x":1705,"s":4697,"d4":-2,"d3":3,"d2":-6,"d1":-4},{"x":1710,"s":4704,"d4":0.3,"d3":-1,"d2":4,"d1":5},{"x":1715,"s":4698,"d4":2.5,"d3":2,"d2":-5,"d1":7},{"x":1720,"s":4703,"d4":0,"d3":-3,"d2":6,"d1":-7},{"x":1725,"s":4699,"d4":-2.5,"d3":2,"d2":-4,"d1":4},{"x":1730,"s":4706,"d4":1,"d3":-1,"d2":5,"d1":-5},{"x":1735,"s":4710,"d4":3,"d3":3,"d2":-6,"d1":3},{"x":1740,"s":4704,"d4":-5.6,"d3":-2,"d2":3,"d1":-4},{"x":1745,"s":4702,"d4":6.9,"d3":1,"d2":-5,"d1":2},
{"x":1750,"s":4702,"d4":-1,"d3":3,"d2":-4,"d1":-2},{"x":1755,"s":4705,"d4":-3,"d3":-4,"d2":3,"d1":3},{"x":1760,"s":4696,"d4":0.5,"d3":2,"d2":-5,"d1":-1},{"x":1765,"s":4699,"d4":3,"d3":-3,"d2":4,"d1":2},{"x":1770,"s":4701,"d4":-1,"d3":4,"d2":-2,"d1":-3},{"x":1775,"s":4694,"d4":6.5,"d3":-2,"d2":5,"d1":2},{"x":1780,"s":4690,"d4":-6.5,"d3":3,"d2":-3,"d1":-1},{"x":1785,"s":4695,"d4":1,"d3":-4,"d2":4,"d1":3},{"x":1790,"s":4688,"d4":3,"d3":2,"d2":-5,"d1":-2},{"x":1795,"s":4697,"d4":-1,"d3":-3,"d2":2,"d1":1},
{"x":1800,"s":4697,"d4":-3,"d3":-3,"d2":4,"d1":2},{"x":1805,"s":4693,"d4":0,"d3":4,"d2":-3,"d1":-2},{"x":1810,"s":4699,"d4":3,"d3":-2,"d2":2,"d1":1},{"x":1815,"s":4693,"d4":0.5,"d3":3,"d2":-4,"d1":-3},{"x":1820,"s":4697,"d4":-3.5,"d3":-4,"d2":3,"d1":2},{"x":1825,"s":4691,"d4":0,"d3":2,"d2":-2,"d1":-1},{"x":1830,"s":4696,"d4":3,"d3":-3,"d2":4,"d1":2},{"x":1835,"s":4698,"d4":-6,"d3":4,"d2":-3,"d1":-2},{"x":1840,"s":4691,"d4":1,"d3":-2,"d2":2,"d1":1},{"x":1845,"s":4688,"d4":7.3,"d3":3,"d2":-4,"d1":-2},
{"x":1850,"s":4688,"d4":-1,"d3":2,"d2":-4,"d1":-3},{"x":1855,"s":4692,"d4":0.5,"d3":-3,"d2":5,"d1":4},{"x":1860,"s":4684,"d4":1.5,"d3":1,"d2":-3,"d1":-2},{"x":1865,"s":4689,"d4":0,"d3":-2,"d2":4,"d1":5},{"x":1870,"s":4691,"d4":-1.5,"d3":3,"d2":-6,"d1":-4},{"x":1875,"s":4685,"d4":-0.3,"d3":-2,"d2":3,"d1":3},{"x":1880,"s":4681,"d4":1.5,"d3":1,"d2":-4,"d1":-5},{"x":1885,"s":4685,"d4":0.3,"d3":-3,"d2":5,"d1":7},{"x":1890,"s":4677,"d4":-1.3,"d3":2,"d2":-3,"d1":-7},{"x":1895,"s":4684,"d4":0,"d3":-1,"d2":4,"d1":3},
{"x":1900,"s":4683,"d4":1.5,"d3":-4,"d2":3,"d1":3},{"x":1905,"s":4681,"d4":-1,"d3":3,"d2":-2,"d1":-3},{"x":1910,"s":4690,"d4":-2,"d3":-2,"d2":3,"d1":2},{"x":1915,"s":4686,"d4":8.2,"d3":4,"d2":-1,"d1":-2},{"x":1920,"s":4693,"d4":-9.5,"d3":-3,"d2":2,"d1":3},{"x":1925,"s":4690,"d4":0,"d3":2,"d2":-3,"d1":-1},{"x":1930,"s":4700,"d4":3,"d3":-4,"d2":2,"d1":2},{"x":1935,"s":4707,"d4":1,"d3":3,"d2":-3,"d1":-3},{"x":1940,"s":4705,"d4":-2,"d3":-2,"d2":1,"d1":1},{"x":1945,"s":4707,"d4":0.5,"d3":4,"d2":-2,"d1":-2},
{"x":1950,"s":4710,"d4":4.7,"d3":-3,"d2":-2,"d1":-3},{"x":1955,"s":4715,"d4":-5.6,"d3":4,"d2":3,"d1":4},{"x":1960,"s":4707,"d4":0.5,"d3":-5,"d2":-1,"d1":-2},{"x":1965,"s":4712,"d4":7.8,"d3":3,"d2":2,"d1":3},{"x":1970,"s":4714,"d4":2,"d3":-4,"d2":-3,"d1":-5},{"x":1975,"s":4709,"d4":-1,"d3":6,"d2":2,"d1":4},{"x":1980,"s":4706,"d4":-2.6,"d3":-5,"d2":-1,"d1":-3},{"x":1985,"s":4710,"d4":0,"d3":4,"d2":3,"d1":5},{"x":1990,"s":4702,"d4":-0.9,"d3":-6,"d2":-2,"d1":-4},{"x":1995,"s":4710,"d4":-1,"d3":5,"d2":1,"d1":3},
{"x":2000,"s":4708,"d4":-0.5,"d3":2,"d2":-1,"d1":1}
]
},
"vconcat":[
{"width":997,"height":72,"data":{"name":"hf"},"layer":[
{"mark":{"type":"line","color":"#151515","strokeWidth":1.8},"encoding":{"x":{"field":"x","type":"quantitative","scale":{"domain":[0,2000],"nice":false},"axis":{"orient":"bottom","values":[200,400,600,800,1000,1200,1400,1600,1800,2000],"labels":false,"title":null}},"y":{"field":"s","type":"quantitative","scale":{"domain":[4665,4812],"nice":false,"zero":false},"axis":{"orient":"left","values":[4700,4750,4800],"title":"s"}}}},
{"mark":{"type":"line","opacity":0},"encoding":{"x":{"field":"x","type":"quantitative","scale":{"domain":[0,2000],"nice":false},"axis":{"orient":"top","values":[200,400,600,800,1000,1200,1400,1600,1800,2000],"title":null}},"y":{"field":"s","type":"quantitative","scale":{"domain":[4665,4812],"nice":false,"zero":false},"axis":{"orient":"right","values":[4700,4750,4800],"title":null}}}}
],"resolve":{"axis":{"x":"independent","y":"independent"}}},
{"width":997,"height":72,"data":{"name":"lf"},"layer":[
{"mark":{"type":"line","color":"#2e2e2e","strokeWidth":1.7,"interpolate":"monotone"},"encoding":{"x":{"field":"x","type":"quantitative","scale":{"domain":[0,2000],"nice":false},"axis":{"orient":"bottom","values":[200,400,600,800,1000,1200,1400,1600,1800,2000],"labels":false,"title":null}},"y":{"field":"a6","type":"quantitative","scale":{"domain":[4672,4806],"nice":false,"zero":false},"axis":{"orient":"left","values":[4700,4750,4800],"title":"a₆"}}}},
{"mark":{"type":"line","opacity":0},"encoding":{"x":{"field":"x","type":"quantitative","scale":{"domain":[0,2000],"nice":false},"axis":{"orient":"top","values":[200,400,600,800,1000,1200,1400,1600,1800,2000],"title":null}},"y":{"field":"a6","type":"quantitative","scale":{"domain":[4672,4806],"nice":false,"zero":false},"axis":{"orient":"right","values":[4700,4750,4800],"title":null}}}}
],"resolve":{"axis":{"x":"independent","y":"independent"}}},
{"width":997,"height":72,"data":{"name":"lf"},"layer":[
{"mark":{"type":"line","color":"#7c7c7c","strokeWidth":1.7,"interpolate":"monotone"},"encoding":{"x":{"field":"x","type":"quantitative","scale":{"domain":[0,2000],"nice":false},"axis":{"orient":"bottom","values":[200,400,600,800,1000,1200,1400,1600,1800,2000],"labels":false,"title":null}},"y":{"field":"d6","type":"quantitative","scale":{"domain":[-12.4,16.3],"nice":false,"zero":false},"axis":{"orient":"left","values":[-10,0,10],"title":"d₆"}}}},
{"mark":{"type":"line","opacity":0},"encoding":{"x":{"field":"x","type":"quantitative","scale":{"domain":[0,2000],"nice":false},"axis":{"orient":"top","values":[200,400,600,800,1000,1200,1400,1600,1800,2000],"title":null}},"y":{"field":"d6","type":"quantitative","scale":{"domain":[-12.4,16.3],"nice":false,"zero":false},"axis":{"orient":"right","values":[-10,0,10],"title":null}}}}
],"resolve":{"axis":{"x":"independent","y":"independent"}}},
{"width":997,"height":72,"data":{"name":"lf"},"layer":[
{"mark":{"type":"line","color":"#858585","strokeWidth":1.7,"interpolate":"monotone"},"encoding":{"x":{"field":"x","type":"quantitative","scale":{"domain":[0,2000],"nice":false},"axis":{"orient":"bottom","values":[200,400,600,800,1000,1200,1400,1600,1800,2000],"labels":false,"title":null}},"y":{"field":"d5","type":"quantitative","scale":{"domain":[-14.2,10.5],"nice":false,"zero":false},"axis":{"orient":"left","values":[-10,0,10],"title":"d₅"}}}},
{"mark":{"type":"line","opacity":0},"encoding":{"x":{"field":"x","type":"quantitative","scale":{"domain":[0,2000],"nice":false},"axis":{"orient":"top","values":[200,400,600,800,1000,1200,1400,1600,1800,2000],"title":null}},"y":{"field":"d5","type":"quantitative","scale":{"domain":[-14.2,10.5],"nice":false,"zero":false},"axis":{"orient":"right","values":[-10,0,10],"title":null}}}}
],"resolve":{"axis":{"x":"independent","y":"independent"}}},
{"width":997,"height":72,"data":{"name":"hf"},"layer":[
{"mark":{"type":"line","color":"#929292","strokeWidth":1.5,"interpolate":"monotone"},"encoding":{"x":{"field":"x","type":"quantitative","scale":{"domain":[0,2000],"nice":false},"axis":{"orient":"bottom","values":[200,400,600,800,1000,1200,1400,1600,1800,2000],"labels":false,"title":null}},"y":{"field":"d4","type":"quantitative","scale":{"domain":[-10.5,8.1],"nice":false,"zero":false},"axis":{"orient":"left","values":[-5,0,5],"title":"d₄"}}}},
{"mark":{"type":"line","opacity":0},"encoding":{"x":{"field":"x","type":"quantitative","scale":{"domain":[0,2000],"nice":false},"axis":{"orient":"top","values":[200,400,600,800,1000,1200,1400,1600,1800,2000],"title":null}},"y":{"field":"d4","type":"quantitative","scale":{"domain":[-10.5,8.1],"nice":false,"zero":false},"axis":{"orient":"right","values":[-5,0,5],"title":null}}}}
],"resolve":{"axis":{"x":"independent","y":"independent"}}},
{"width":997,"height":72,"data":{"name":"hf"},"layer":[
{"mark":{"type":"line","color":"#959595","strokeWidth":1.7},"encoding":{"x":{"field":"x","type":"quantitative","scale":{"domain":[0,2000],"nice":false},"axis":{"orient":"bottom","values":[200,400,600,800,1000,1200,1400,1600,1800,2000],"labels":false,"title":null}},"y":{"field":"d3","type":"quantitative","scale":{"domain":[-8.6,9.9],"nice":false,"zero":false},"axis":{"orient":"left","values":[-5,0,5],"title":"d₃"}}}},
{"mark":{"type":"line","opacity":0},"encoding":{"x":{"field":"x","type":"quantitative","scale":{"domain":[0,2000],"nice":false},"axis":{"orient":"top","values":[200,400,600,800,1000,1200,1400,1600,1800,2000],"title":null}},"y":{"field":"d3","type":"quantitative","scale":{"domain":[-8.6,9.9],"nice":false,"zero":false},"axis":{"orient":"right","values":[-5,0,5],"title":null}}}}
],"resolve":{"axis":{"x":"independent","y":"independent"}}},
{"width":997,"height":72,"data":{"name":"hf"},"layer":[
{"mark":{"type":"line","color":"#9b9b9b","strokeWidth":2},"encoding":{"x":{"field":"x","type":"quantitative","scale":{"domain":[0,2000],"nice":false},"axis":{"orient":"bottom","values":[200,400,600,800,1000,1200,1400,1600,1800,2000],"labels":false,"title":null}},"y":{"field":"d2","type":"quantitative","scale":{"domain":[-11.3,11.6],"nice":false,"zero":false},"axis":{"orient":"left","values":[-10,0,10],"title":"d₂"}}}},
{"mark":{"type":"line","opacity":0},"encoding":{"x":{"field":"x","type":"quantitative","scale":{"domain":[0,2000],"nice":false},"axis":{"orient":"top","values":[200,400,600,800,1000,1200,1400,1600,1800,2000],"title":null}},"y":{"field":"d2","type":"quantitative","scale":{"domain":[-11.3,11.6],"nice":false,"zero":false},"axis":{"orient":"right","values":[-10,0,10],"title":null}}}}
],"resolve":{"axis":{"x":"independent","y":"independent"}}},
{"width":997,"height":72,"data":{"name":"hf"},"layer":[
{"mark":{"type":"line","color":"#a0a0a0","strokeWidth":2},"encoding":{"x":{"field":"x","type":"quantitative","scale":{"domain":[0,2000],"nice":false},"axis":{"orient":"bottom","values":[200,400,600,800,1000,1200,1400,1600,1800,2000],"title":null}},"y":{"field":"d1","type":"quantitative","scale":{"domain":[-9.1,10.5],"nice":false,"zero":false},"axis":{"orient":"left","values":[-5,0,5,10],"title":"d₁"}}}},
{"mark":{"type":"line","opacity":0},"encoding":{"x":{"field":"x","type":"quantitative","scale":{"domain":[0,2000],"nice":false},"axis":{"orient":"top","values":[200,400,600,800,1000,1200,1400,1600,1800,2000],"title":null}},"y":{"field":"d1","type":"quantitative","scale":{"domain":[-9.1,10.5],"nice":false,"zero":false},"axis":{"orient":"right","values":[-5,0,5,10],"title":null}}}}
],"resolve":{"axis":{"x":"independent","y":"independent"}}}
]
}
